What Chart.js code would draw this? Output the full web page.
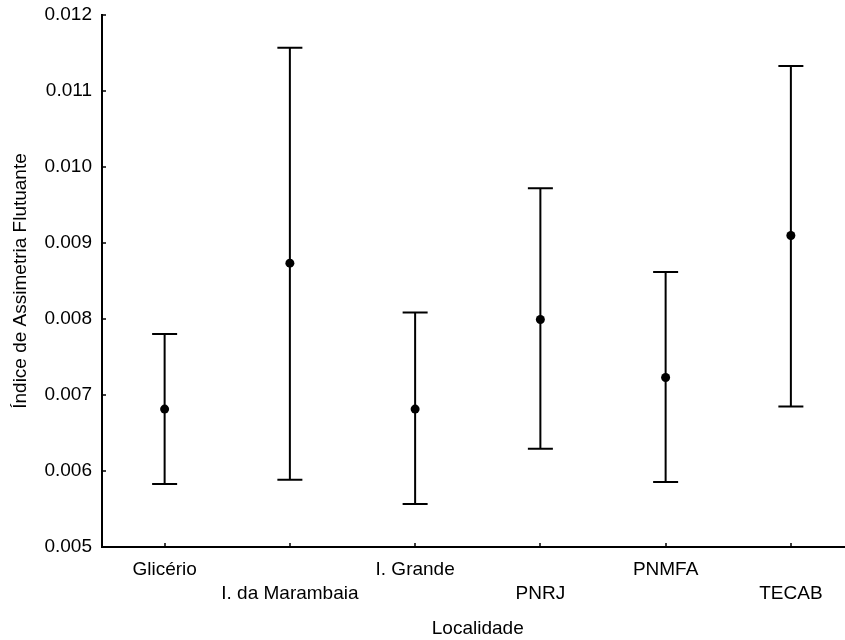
<!DOCTYPE html>
<html>
<head>
<meta charset="utf-8">
<script src="https://cdn.jsdelivr.net/npm/chart.js@4/dist/chart.umd.min.js"></script>
<style>
  html, body { margin: 0; padding: 0; background: #fff; overflow: hidden; }
  #wrap { width: 845px; height: 640px; overflow: hidden; }
</style>
</head>
<body>
<div id="wrap"><canvas id="chart" width="858" height="640"></canvas></div>
<script>
// Localidades (x axis), two rows of labels alternate
const categories = ['Glicério', 'I. da Marambaia', 'I. Grande', 'PNRJ', 'PNMFA', 'TECAB'];
const means = [0.006815, 0.008735, 0.006815, 0.007993, 0.007231, 0.009098];
const lowers = [0.005828, 0.005885, 0.005565, 0.006293, 0.005855, 0.006849];
const uppers = [0.007801, 0.01157, 0.008085, 0.009721, 0.008617, 0.01133];
const yTicks = [0.005, 0.006, 0.007, 0.008, 0.009, 0.010, 0.011, 0.012];

const FONT = { family: "'Liberation Sans', Arial, sans-serif", size: 19 };

// labels alternate between first and second row
const tickLabels = categories.map((c, i) => i % 2 === 0 ? [c, ''] : ['', c]);

const errorBars = {
    id: 'errorBars',
    beforeDatasetsDraw(chart) {
        const { ctx, scales: { x, y } } = chart;
        ctx.save();
        ctx.strokeStyle = '#000';
        ctx.lineWidth = 2;
        lowers.forEach((lo, i) => {
            const px = x.getPixelForValue(i);
            const yLo = y.getPixelForValue(lo);
            const yHi = y.getPixelForValue(uppers[i]);
            ctx.beginPath();
            ctx.moveTo(px, yLo);
            ctx.lineTo(px, yHi);
            ctx.moveTo(px - 12.5, yLo);
            ctx.lineTo(px + 12.5, yLo);
            ctx.moveTo(px - 12.5, yHi);
            ctx.lineTo(px + 12.5, yHi);
            ctx.stroke();
        });
        ctx.restore();
    }
};

// small inward tick marks on both axes
const innerTicks = {
    id: 'innerTicks',
    afterDraw(chart) {
        const { ctx, chartArea, scales: { x, y } } = chart;
        ctx.save();
        ctx.strokeStyle = '#000';
        ctx.lineWidth = 1.5;
        ctx.beginPath();
        yTicks.forEach(v => {
            const py = Math.round(y.getPixelForValue(v));
            ctx.moveTo(chartArea.left, py);
            ctx.lineTo(chartArea.left + 4, py);
        });
        categories.forEach((c, i) => {
            const px = Math.round(x.getPixelForValue(i));
            ctx.moveTo(px, chartArea.bottom);
            ctx.lineTo(px, chartArea.bottom - 4);
        });
        ctx.stroke();
        ctx.restore();
    }
};

new Chart(document.getElementById('chart'), {
    type: 'line',
    data: {
        labels: tickLabels,
        datasets: [{
            label: 'Média',
            data: means,
            showLine: false,
            pointRadius: 4.5,
            pointBackgroundColor: '#000',
            pointBorderColor: '#000',
            pointBorderWidth: 0
        }]
    },
    options: {
        responsive: false,
        animation: false,
        layout: { padding: { top: 15, right: 1, left: 0, bottom: 0 } },
        plugins: { legend: { display: false }, tooltip: { enabled: false } },
        scales: {
            x: {
                type: 'category',
                offset: true,
                grid: { display: false, drawTicks: false },
                border: { display: true, color: '#000', width: 2 },
                ticks: {
                    color: '#000',
                    font: { ...FONT, lineHeight: 1.25 },
                    padding: 11,
                    maxRotation: 0,
                    autoSkip: false
                },
                title: {
                    display: true,
                    text: 'Localidade',
                    color: '#000',
                    font: FONT,
                    padding: { top: 0, bottom: 0 }
                },
                afterFit: s => { s.height = 93; }
            },
            y: {
                min: 0.005,
                max: 0.012,
                grid: { display: false, drawTicks: false },
                border: { display: true, color: '#000', width: 2 },
                afterBuildTicks: s => { s.ticks = yTicks.map(v => ({ value: v })); },
                ticks: {
                    color: '#000',
                    font: FONT,
                    padding: 10,
                    callback: v => v.toFixed(3)
                },
                title: {
                    display: true,
                    text: 'Índice de Assimetria Flutuante',
                    color: '#000',
                    font: FONT,
                    padding: { top: 9, bottom: 0 }
                },
                afterFit: s => {
                    s.width = 102;
                    s.paddingTop = 0;
                    s.paddingBottom = 0;
                }
            }
        }
    },
    plugins: [errorBars, innerTicks]
});
</script>
</body>
</html>
